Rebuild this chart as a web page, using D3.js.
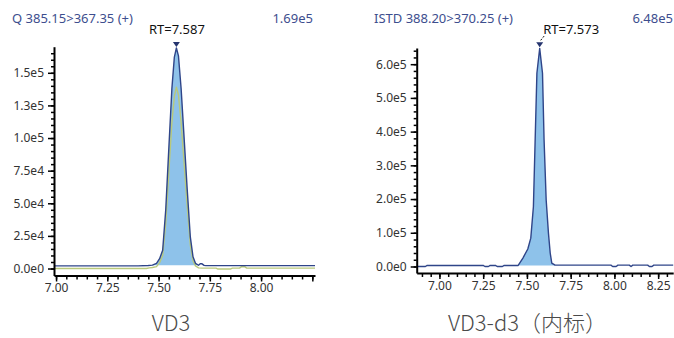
<!DOCTYPE html>
<html>
<head>
<meta charset="utf-8">
<script src="https://cdn.jsdelivr.net/npm/d3@7"></script>
<style>
    body { margin: 0; background: #ffffff; }
    .tickLabel text { font-family: "Noto Sans", sans-serif; font-size: 12px; fill: #333333; }
    .header { font-family: "Noto Sans", sans-serif; font-size: 13px; fill: #3d4e8e; }
    .rtLabel { font-family: "Noto Sans", sans-serif; font-size: 13px; fill: #111111; }
    .caption { font-family: "Noto Sans CJK SC", "Noto Sans", sans-serif; font-size: 22px; font-weight: 300; fill: #4a4a4a; }
</style>
</head>
<body>
<div id="chart"></div>
<script>
// =============================================================================
// data
// =============================================================================

// VD3, quantifier trace (blue) ================================================
var vd3Times = [6.99, 7.10, 7.20, 7.30, 7.40, 7.45, 7.47, 7.49, 7.505, 7.52, 7.535,
    7.55, 7.565, 7.577, 7.587, 7.597, 7.61, 7.625, 7.64, 7.655, 7.668, 7.68, 7.695,
    7.703, 7.712, 7.722, 7.73, 7.80, 7.90, 8.00, 8.10, 8.20, 8.263];
var vd3Quant = [2000, 2000, 2000, 2000, 2000, 2300, 2600, 4000, 7500, 14000, 45000,
    92000, 138000, 162000, 169000, 163000, 138000, 99000, 60000, 24000, 9000, 4000, 2500,
    3600, 3600, 2400, 2200, 2200, 2200, 2200, 2200, 2200, 2200];

// VD3, qualifier trace (green) ================================================
var vd3QualTimes = [6.99, 7.20, 7.44, 7.455, 7.47, 7.49, 7.505, 7.52, 7.535, 7.55,
    7.565, 7.577, 7.587, 7.597, 7.61, 7.625, 7.64, 7.655, 7.668, 7.68, 7.695, 7.71,
    7.78, 7.79, 7.85, 7.86, 7.895, 7.905, 7.92, 7.93, 8.10, 8.263];
var vd3Qual = [0, 0, 0, 500, 800, 1500, 4500, 10000, 35000, 74000,
    112000, 132000, 139000, 133000, 112000, 80000, 47000, 18000, 6000, 2000, 500, 300,
    300, -400, -400, 300, 300, 1400, 1400, 300, 300, 300];

// VD3-d3 (internal standard) ==================================================
var istdTimes = [6.87, 6.92, 6.93, 7.10, 7.25, 7.26, 7.28, 7.29, 7.32, 7.33, 7.36,
    7.37, 7.45, 7.477, 7.505, 7.522, 7.537, 7.547, 7.557, 7.573, 7.589, 7.598, 7.61,
    7.623, 7.633, 7.642, 7.661, 7.80, 7.98, 7.99, 8.01, 8.02, 8.085, 8.095, 8.105,
    8.19, 8.20, 8.215, 8.225, 8.336];
var istdValues = [0, 0, 3000, 3000, 3000, 0, 0, 3000, 3000, 0, 0,
    3000, 3000, 25000, 52000, 84000, 177000, 375000, 573000, 647000, 573000, 375000, 197000,
    99000, 40000, 10000, 4000, 4000, 4000, 0, 0, 4000, 4000, 0, 4000,
    4000, 0, 0, 4000, 4000];

// integration windows =========================================================
var vd3Window = [7.47, 7.695];
var istdWindow = [7.45, 7.661];

// ticks =======================================================================
var vd3YTicks = [0, 25000, 50000, 75000, 100000, 125000, 150000];
var istdYTicks = [0, 100000, 200000, 300000, 400000, 500000, 600000];
var vd3XTicks = [7.00, 7.25, 7.50, 7.75, 8.00, 8.25];
var istdXTicks = [7.00, 7.25, 7.50, 7.75, 8.00, 8.25];

// labels ======================================================================
var headers = ["Q 385.15>367.35 (+)", "ISTD 388.20>370.25 (+)"];
var maxLabels = ["1.69e5", "6.48e5"];
var rtValues = [7.587, 7.573];
var captions = ["VD3", "VD3-d3（内标）"];

// =============================================================================
// globals
// =============================================================================
var width = 674,
    height = 338;

var _lineColor = "#2f4589";
var _qualColor = "#b9c97c";
var _fillColor = "#8ec2ea";

var _svg = d3.select("#chart").append("svg")
    .attr("width", width)
    .attr("height", height);

function toPoints(times, values) {
    return times.map(function (t, i) { return { x: t, y: values[i] }; });
}

function formatExp(d) {
    return d.toExponential(1).replace("+", "");
}

// =============================================================================
// one chromatogram panel
// =============================================================================
function drawPanel(cfg) {

    var x = d3.scaleLinear().domain(cfg.xDomain).range(cfg.xRange);
    var y = d3.scaleLinear().domain(cfg.yDomain).range(cfg.yRange);

    var g = _svg.append("g");

    var line = d3.line()
        .x(function (d) { return x(d.x); })
        .y(function (d) { return y(d.y); });

    var area = d3.area()
        .x(function (d) { return x(d.x); })
        .y0(y(cfg.fillBase))
        .y1(function (d) { return y(d.y); });

    // filled peak
    var peak = cfg.traces[0].filter(function (d) {
        return d.x >= cfg.window[0] && d.x <= cfg.window[1];
    });
    g.append("path")
        .datum(peak)
        .attr("fill", _fillColor)
        .attr("stroke", "none")
        .attr("d", area);

    // traces, last drawn first so the quantifier sits on top
    for (var i = cfg.traces.length - 1; i >= 0; i--) {
        g.append("path")
            .datum(cfg.traces[i])
            .attr("fill", "none")
            .attr("stroke", i == 0 ? _lineColor : _qualColor)
            .attr("stroke-width", i == 0 ? 1.4 : 1.4)
            .attr("stroke-linejoin", "round")
            .attr("d", line);
    }

    // Y axis: minor ticks then major ticks with labels
    g.append("g")
        .attr("transform", "translate(" + cfg.xRange[0] + ",0)")
        .call(d3.axisLeft(y).tickValues(cfg.yMinor).tickSize(3).tickFormat(""))
        .call(function (s) { s.select(".domain").remove(); })
        .selectAll("line").attr("stroke", "#000").attr("stroke-width", 1.5);

    g.append("g")
        .attr("class", "tickLabel")
        .attr("transform", "translate(" + cfg.xRange[0] + ",0)")
        .call(d3.axisLeft(y).tickValues(cfg.yTicks).tickSize(6).tickSizeOuter(0)
            .tickPadding(4).tickFormat(formatExp))
        .call(function (s) {
            s.select(".domain").attr("stroke", "#000").attr("stroke-width", 2);
            s.selectAll("line").attr("stroke", "#000").attr("stroke-width", 1.5);
            s.selectAll("text").attr("font-family", null).attr("font-size", null);
        });

    // X axis
    g.append("g")
        .attr("transform", "translate(0," + cfg.yRange[0] + ")")
        .call(d3.axisBottom(x).tickValues(cfg.xMinor).tickSize(4).tickFormat(""))
        .call(function (s) { s.select(".domain").remove(); })
        .selectAll("line").attr("stroke", "#000").attr("stroke-width", 1.5);

    g.append("g")
        .attr("class", "tickLabel")
        .attr("transform", "translate(0," + cfg.yRange[0] + ")")
        .call(d3.axisBottom(x).tickValues(cfg.xTicks).tickSize(6).tickSizeOuter(0)
            .tickPadding(2).tickFormat(function (d) {
                return x(d) + 14 > cfg.xRange[1] + 1 ? "" : d.toFixed(2);
            }))
        .call(function (s) {
            s.select(".domain").attr("stroke", "#000").attr("stroke-width", 2);
            s.selectAll("line").attr("stroke", "#000").attr("stroke-width", 1.5);
            s.selectAll("text").attr("font-family", null).attr("font-size", null);
        });

    // headers
    g.append("text")
        .attr("class", "header")
        .attr("x", cfg.headerX)
        .attr("y", 22.5)
        .text(cfg.header);

    g.append("text")
        .attr("class", "header")
        .attr("text-anchor", "end")
        .attr("x", cfg.maxX)
        .attr("y", 22.5)
        .text(cfg.maxLabel);

    // RT marker
    var apex = d3.max(cfg.traces[0], function (d) { return d.y; });
    var px = x(cfg.rt),
        py = y(apex);
    g.append("path")
        .attr("d", "M" + (px - 3.5) + "," + (py - 6) + "L" + (px + 3.5) + "," + (py - 6) +
            "L" + px + "," + (py - 1) + "Z")
        .attr("fill", "#25346e");

    if (cfg.rtLeader) {
        g.append("line")
            .attr("x1", px + 1).attr("y1", py - 8)
            .attr("x2", px + 5).attr("y2", py - 13)
            .attr("stroke", "#111")
            .attr("stroke-dasharray", "2,1.5");
    }

    g.append("text")
        .attr("class", "rtLabel")
        .attr("text-anchor", cfg.rtLeader ? "start" : "middle")
        .attr("x", cfg.rtLeader ? px + 3.5 : px + 0.5)
        .attr("y", 34)
        .text("RT=" + cfg.rt.toFixed(3));

    // caption under the panel
    g.append("text")
        .attr("class", "caption")
        .attr("text-anchor", "middle")
        .attr("x", cfg.captionX)
        .attr("y", 331)
        .text(cfg.caption);
}

// =============================================================================
// draw
// =============================================================================
drawPanel({
    xDomain: [6.99, 8.263], xRange: [54, 315],
    yDomain: [-5350, 170000], yRange: [275.5, 46.7],
    traces: [toPoints(vd3Times, vd3Quant), toPoints(vd3QualTimes, vd3Qual)],
    window: vd3Window, fillBase: 2500,
    yTicks: vd3YTicks, yMinor: d3.range(0, 166000, 5000),
    xTicks: vd3XTicks, xMinor: d3.range(7.0, 8.27, 0.05),
    header: headers[0], headerX: 12, maxLabel: maxLabels[0], maxX: 313,
    rt: rtValues[0], rtLeader: false,
    caption: captions[0], captionX: 171
});

drawPanel({
    xDomain: [6.87, 8.336], xRange: [416.7, 673.2],
    yDomain: [-19300, 648000], yRange: [273, 48],
    traces: [toPoints(istdTimes, istdValues)],
    window: istdWindow, fillBase: 3000,
    yTicks: istdYTicks, yMinor: d3.range(0, 641000, 20000),
    xTicks: istdXTicks, xMinor: d3.range(6.9, 8.34, 0.05),
    header: headers[1], headerX: 374, maxLabel: maxLabels[1], maxX: 673,
    rt: rtValues[1], rtLeader: true,
    caption: captions[1], captionX: 527.5
});
</script>
</body>
</html>
